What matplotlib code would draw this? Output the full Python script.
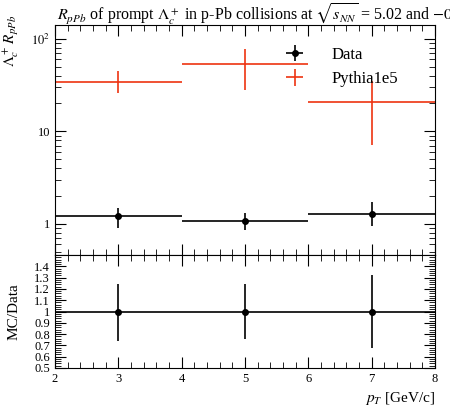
import matplotlib
matplotlib.use("Agg")
import matplotlib.pyplot as plt
import numpy as np
from matplotlib.ticker import MultipleLocator, LogLocator, NullFormatter

plt.rcParams['font.family'] = ['Liberation Serif', 'DejaVu Serif']
plt.rcParams['mathtext.fontset'] = 'stix'

bin_lo = np.array([2, 4, 6])
bin_hi = np.array([4, 6, 8])
x_c = np.array([3, 5, 7])
data = np.array([1.22, 1.06, 1.27])
data_lo = np.array([0.90, 0.85, 0.95])
data_hi = np.array([1.50, 1.30, 1.70])
pyth = np.array([34.5, 53.0, 20.8])
pyth_lo = np.array([26.0, 28.0, 7.2])
pyth_hi = np.array([45.0, 78.0, 35.0])
ratio = np.array([1.0, 1.0, 1.0])
ratio_lo = np.array([0.74, 0.76, 0.68])
ratio_hi = np.array([1.24, 1.24, 1.32])

W, H = 450, 407
fig = plt.figure(figsize=(W/100, H/100), dpi=100)
ax = fig.add_axes([55/W, 1-255/H, 380/W, 230/H])
axr = fig.add_axes([55/W, 1-368/H, 380/W, 113/H], sharex=ax)

red = '#ee3311'
xerr = [x_c-bin_lo, bin_hi-x_c]
ax.errorbar(x_c, data, xerr=xerr, yerr=[data-data_lo, data_hi-data], fmt='o', color='black', ms=4, lw=1.2, capsize=0, label='Data')
ax.errorbar(x_c, pyth, xerr=xerr, yerr=[pyth-pyth_lo, pyth_hi-pyth], fmt='none', color=red, lw=1.2, capsize=0, label='Pythia1e5')
ax.set_yscale('log')
ax.set_ylim(0.46, 141)
ax.set_xlim(2, 8)
ax.yaxis.set_minor_locator(LogLocator(base=10, subs=np.arange(2, 10), numticks=10))
ax.yaxis.set_minor_formatter(NullFormatter())
ax.set_yticks([1, 10, 100])
ax.set_yticklabels(['1', '10', r'$10^2$'])
ax.set_ylabel(r'$\Lambda_c^+\,R_{pPb}$', fontsize=11)
ax.yaxis.set_label_coords(-0.09, 0.93)
ax.tick_params(labelbottom=False)
ax.legend(loc='upper left', bbox_to_anchor=(0.53, 0.97), frameon=False, fontsize=12, handlelength=2.8)
fig.text(57/W, 1-14/H, r'$R_{pPb}$ of prompt $\Lambda_c^+$ in p-Pb collisions at $\sqrt{s_{NN}}$ = 5.02 and $-0.96 < y < 0.04$', fontsize=11.5, va='center')

axr.axhline(1.0, color='black', lw=1.2)
axr.errorbar(x_c, ratio, yerr=[ratio-ratio_lo, ratio_hi-ratio], fmt='o', color='black', ms=4, lw=1.2, capsize=0)
axr.set_ylim(0.5, 1.5)
axr.set_yticks([0.5, 0.6, 0.7, 0.8, 0.9, 1.0, 1.1, 1.2, 1.3, 1.4])
axr.set_yticklabels(['0.5', '0.6', '0.7', '0.8', '0.9', '1', '1.1', '1.2', '1.3', '1.4'])
axr.yaxis.set_minor_locator(MultipleLocator(0.02))
axr.set_ylabel('MC/Data', fontsize=11)
axr.yaxis.set_label_coords(-0.09, 0.5)
axr.xaxis.set_major_locator(MultipleLocator(1))
axr.xaxis.set_minor_locator(MultipleLocator(0.2))
axr.set_xlabel(r'$p_T$ [GeV/c]', fontsize=11, loc='right')

for a in (ax, axr):
    a.tick_params(which='both', direction='in', top=True, right=True, labelsize=9)
    a.tick_params(which='major', length=8)
    a.tick_params(which='minor', length=4)

fig.savefig('out.png', dpi=100)
